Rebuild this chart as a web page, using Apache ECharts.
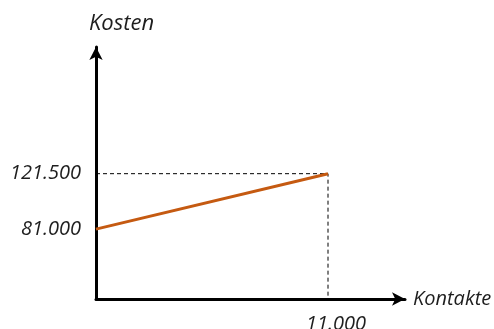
<!DOCTYPE html>
<html>
<head>
<meta charset="utf-8">
<script src="https://cdn.jsdelivr.net/npm/echarts@6/dist/echarts.min.js"></script>
<style>
  html, body { margin: 0; padding: 0; background: #fff; }
  #chart { width: 494px; height: 329px; }
</style>
</head>
<body>
<div id="chart"></div>
<script>
// Kostenfunktion: Fixkosten plus variable Kosten je Kontakt
const kontakte = [0, 11000];
const kosten = [81000, 121500];
const yTickValues = [81000, 121500];
const xTickValues = [11000];

// Achsenbereich (schematische Darstellung)
const xMin = 0, xMax = 14650;
const yMin = 30000, yMax = 214000;

const fmt = v => String(v).replace(/\B(?=(\d{3})+(?!\d))/g, '.');
const font = 'Open Sans';
const textColor = '#1e1e1e';

const costLine = kontakte.map((x, i) => [x, kosten[i]]);
const lastX = kontakte[kontakte.length - 1];
const lastY = kosten[kosten.length - 1];
const guide = [[xMin, lastY], [lastX, lastY], [lastX, yMin]];

const axisCommon = {
  axisLine: {
    show: true,
    symbol: ['none', 'arrow'],
    symbolSize: [10, 13],
    lineStyle: { color: '#000', width: 3 }
  },
  axisTick: { show: false },
  splitLine: { show: false }
};

const chart = echarts.init(document.getElementById('chart'), null, { renderer: 'canvas' });
chart.setOption({
  animation: false,
  backgroundColor: '#fff',
  grid: { left: 96, right: 89, top: 47, bottom: 30, containLabel: false, outerBoundsMode: 'none' },
  xAxis: Object.assign({
    type: 'value', min: xMin, max: xMax,
    name: 'Kontakte', nameLocation: 'end', nameGap: 8,
    nameTextStyle: { fontFamily: font, fontStyle: 'italic', fontSize: 20, color: textColor },
    axisLabel: {
      customValues: xTickValues, formatter: fmt, margin: 15,
      padding: [0, 0, 0, 16],
      fontFamily: font, fontStyle: 'italic', fontSize: 20, color: textColor
    }
  }, axisCommon),
  yAxis: Object.assign({
    type: 'value', min: yMin, max: yMax,
    name: 'Kosten', nameLocation: 'end', nameGap: 12,
    nameTextStyle: { fontFamily: font, fontStyle: 'italic', fontSize: 22, color: textColor, align: 'left', padding: [0, 0, 0, -7] },
    axisLabel: {
      customValues: yTickValues, formatter: fmt, margin: 15,
      fontFamily: font, fontStyle: 'italic', fontSize: 20, color: textColor
    }
  }, axisCommon),
  series: [
    {
      type: 'line', data: guide, symbol: 'none', silent: true,
      lineStyle: { color: '#000', width: 1, type: [4, 3] }, z: 1
    },
    {
      type: 'line', data: costLine, symbol: 'none',
      lineStyle: { color: '#C55A11', width: 3 }, z: 3
    }
  ]
});
</script>
</body>
</html>
